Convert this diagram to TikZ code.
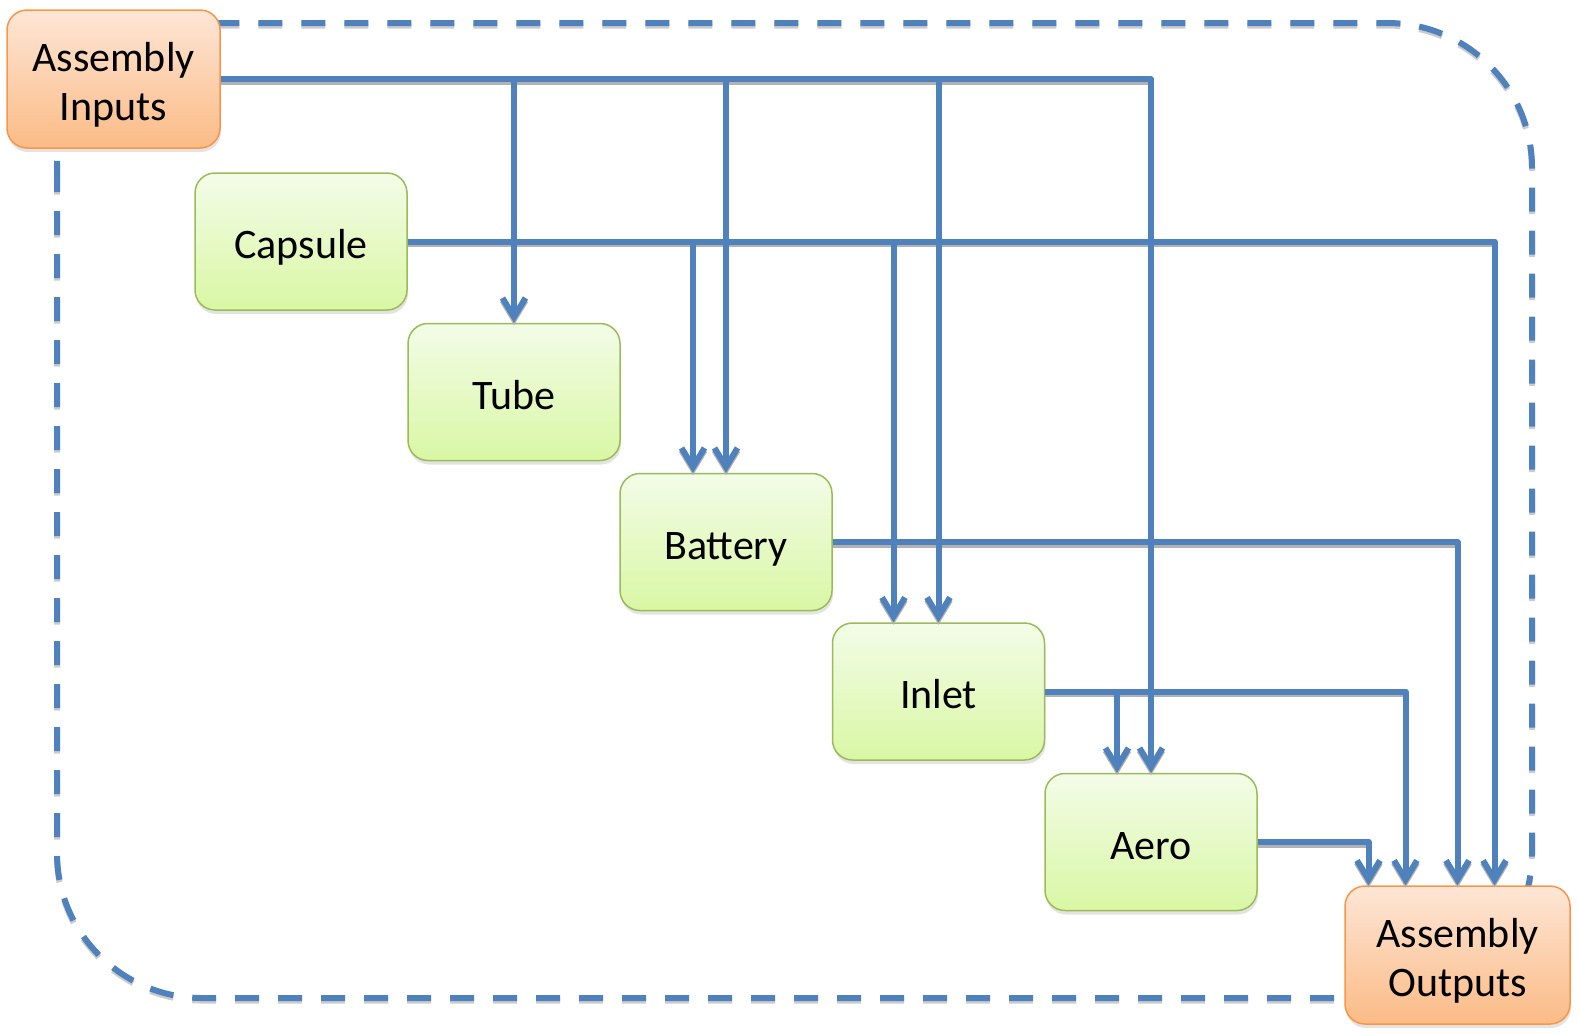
\documentclass[tikz,border=0pt]{standalone}
\usepackage{fontspec}
\setmainfont{Carlito}
\usetikzlibrary{arrows.meta,shadows}
\definecolor{lblue}{HTML}{4F81BD}
\definecolor{gborder}{HTML}{9BBB59}
\definecolor{gtop}{HTML}{F3FCE8}
\definecolor{gbot}{HTML}{D9F7A4}
\definecolor{oborder}{HTML}{F79646}
\definecolor{otop}{HTML}{FDE6D6}
\definecolor{obot}{HTML}{FBBB86}
\newcommand\allconns[1]{%
  \draw[#1] (ain.east) -| (tube.north);
  \draw[#1] (ain.east) -| (bat.north);
  \draw[#1] (ain.east) -| (inl.north);
  \draw[#1] (ain.east) -| (aero.north);
  \draw[#1] (cap.east) -| ([xshift=-33pt]bat.north);
  \draw[#1] (cap.east) -| ([xshift=-45pt]inl.north);
  \draw[#1] (cap.east) -| ([xshift=37pt]aout.north);
  \draw[#1] (bat.east) -| (aout.north);
  \draw[#1] (inl.east) -| ([xshift=-34pt]aero.north);
  \draw[#1] (inl.east) -| ([xshift=-52pt]aout.north);
  \draw[#1] (aero.east) -| ([xshift=-89pt]aout.north);
}
\begin{document}
\begin{tikzpicture}[x=1pt,y=-1pt,
  box/.style={draw=gborder, line width=1.5pt, rounded corners=20pt,
    minimum width=212pt, minimum height=137pt, top color=gtop, bottom color=gbot,
    font=\fontsize{42}{49}\selectfont, align=center, inner sep=0pt,
    text height=34pt, text depth=0pt,
    drop shadow={shadow xshift=1pt, shadow yshift=-4pt, opacity=0.22}},
  iobox/.style={box, draw=oborder, top color=otop, bottom color=obot,
    text height=82pt, text depth=0pt},
  conn/.style={draw=lblue, line width=6pt, line join=round,
    -{Straight Barb[length=19pt,width=23pt]}},
  connshadow/.style={conn, draw=black!30, transform canvas={yshift=-2.5pt}},
  border/.style={draw=lblue, line width=6pt, dash pattern=on 24pt off 19pt,
    rounded corners=145pt},
]
\useasboundingbox (0,0) rectangle (1578,1034);
\draw[border, draw=black!20, transform canvas={yshift=-2.5pt}] (57,23) rectangle (1532,998);
\draw[border] (57,23) rectangle (1532,998);

\node[iobox, minimum width=213pt, minimum height=138pt] (ain) at (113.5,79) {Assembly\\Inputs};
\node[box] (cap) at (301,241.5) {Capsule};
\node[box] (tube) at (514,392) {Tube};
\node[box] (bat) at (726,542) {Battery};
\node[box] (inl) at (938.5,691.5) {Inlet};
\node[box] (aero) at (1151,842) {Aero};
\node[iobox, minimum width=225pt, minimum height=138pt] (aout) at (1457.5,955) {Assembly\\Outputs};

\allconns{connshadow}
\allconns{conn}
\end{tikzpicture}
\end{document}
